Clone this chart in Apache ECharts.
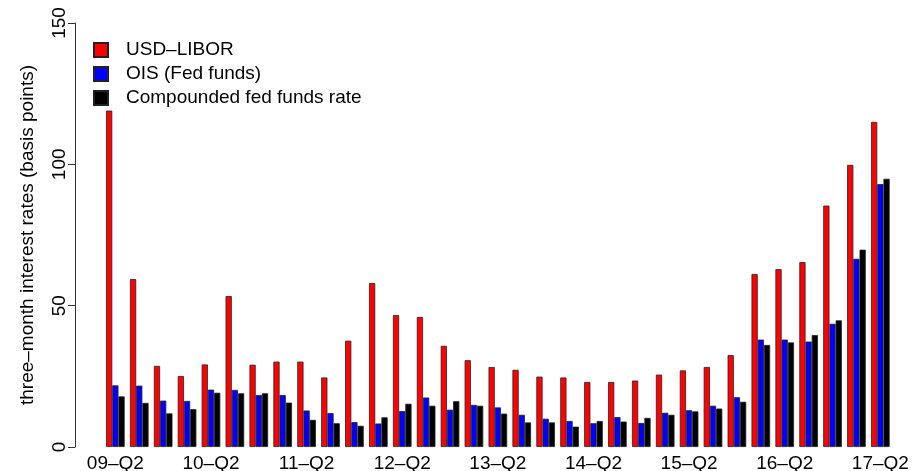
<!DOCTYPE html>
<html>
<head>
<meta charset="utf-8">
<script src="https://cdn.jsdelivr.net/npm/echarts@6/dist/echarts.min.js"></script>
<style>
  html, body { margin: 0; padding: 0; background: #fff; }
  #chart { width: 912px; height: 471px; }
</style>
</head>
<body>
<div id="chart"></div>
<script>
const quarters = [
  "09–Q2", "09–Q3", "09–Q4", "10–Q1", "10–Q2", "10–Q3", "10–Q4", "11–Q1",
  "11–Q2", "11–Q3", "11–Q4", "12–Q1", "12–Q2", "12–Q3", "12–Q4", "13–Q1",
  "13–Q2", "13–Q3", "13–Q4", "14–Q1", "14–Q2", "14–Q3", "14–Q4", "15–Q1",
  "15–Q2", "15–Q3", "15–Q4", "16–Q1", "16–Q2", "16–Q3", "16–Q4", "17–Q1",
  "17–Q2"
];

// basis points
const libor = [
  119.0, 59.4, 28.7, 25.1, 29.2, 53.4, 29.1, 30.2, 30.2, 24.6, 37.6,
  58.0, 46.7, 46.0, 35.8, 30.7, 28.3, 27.3, 24.9, 24.6, 23.0, 23.0,
  23.5, 25.6, 27.1, 28.3, 32.5, 61.2, 62.9, 65.4, 85.4, 99.8, 115.0
];
const ois = [
  21.8, 21.7, 16.4, 16.3, 20.3, 20.2, 18.4, 18.4, 12.9, 12.0, 8.8,
  8.3, 12.7, 17.5, 13.2, 14.9, 14.0, 11.4, 10.0, 9.2, 8.4, 10.6,
  8.5, 12.1, 13.0, 14.6, 17.6, 38.0, 38.0, 37.3, 43.6, 66.6, 93.0
];
const compounded = [
  17.9, 15.6, 11.9, 13.4, 19.2, 19.0, 19.0, 15.7, 9.6, 8.4, 7.5,
  10.5, 15.3, 14.6, 16.2, 14.6, 11.8, 8.7, 8.7, 7.2, 9.2, 9.0,
  10.3, 11.4, 12.6, 13.6, 16.0, 36.1, 37.0, 39.6, 44.8, 69.8, 94.9
];

const font = "'Liberation Sans', Arial, sans-serif";

const chart = echarts.init(document.getElementById("chart"));

const barStyle = (color) => ({
  color: color,
  borderColor: "#222",
  borderWidth: 0.8
});

const option = {
  animation: false,
  textStyle: { fontFamily: font },
  grid: { left: 103.4, right: 19.7, top: 23, bottom: 24, outerBoundsMode: "none", containLabel: false },
  legend: {
    orient: "vertical",
    left: 93,
    top: 40,
    padding: 0,
    icon: "rect",
    itemWidth: 14,
    itemHeight: 14,
    itemGap: 4,
    textStyle: { fontSize: 19, lineHeight: 20, color: "#000", fontFamily: font, padding: [0, 0, 0, 13] },
    data: ["USD–LIBOR", "OIS (Fed funds)", "Compounded fed funds rate"]
  },
  xAxis: {
    type: "category",
    data: quarters,
    axisLine: { show: false },
    axisTick: { show: false },
    axisLabel: {
      interval: 3,
      margin: 7,
      fontSize: 19,
      color: "#000",
      fontFamily: font
    }
  },
  yAxis: {
    type: "value",
    min: 0,
    max: 150,
    interval: 50,
    offset: 28.4,
    name: "three–month interest rates (basis points)",
    nameLocation: "middle",
    nameGap: 38,
    nameRotate: 90,
    nameTextStyle: { fontSize: 19, color: "#000", fontFamily: font },
    splitLine: { show: false },
    axisLine: { show: true, lineStyle: { color: "#333", width: 1 } },
    axisTick: { show: true, length: 7, lineStyle: { color: "#333" } },
    axisLabel: {
      rotate: 90,
      margin: 6,
      fontSize: 19,
      color: "#000",
      fontFamily: font
    }
  },
  series: [
    {
      name: "USD–LIBOR",
      type: "bar",
      data: libor,
      barWidth: 6.2,
      barGap: "0%",
      itemStyle: barStyle("#ff0000")
    },
    {
      name: "OIS (Fed funds)",
      type: "bar",
      data: ois,
      barWidth: 6.2,
      barGap: "0%",
      itemStyle: barStyle("#0000ff")
    },
    {
      name: "Compounded fed funds rate",
      type: "bar",
      data: compounded,
      barWidth: 6.2,
      barGap: "0%",
      itemStyle: barStyle("#000000")
    }
  ]
};

chart.setOption(option);
window.addEventListener("resize", () => chart.resize());
</script>
</body>
</html>
